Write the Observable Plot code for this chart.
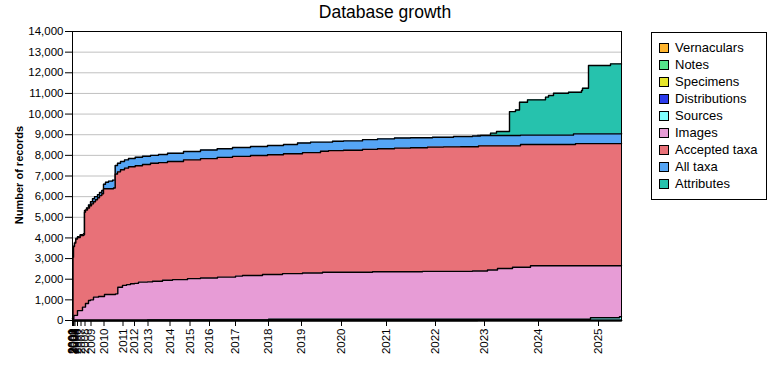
<!DOCTYPE html>
<html>
<head>
<meta charset="utf-8">
<script src="https://cdn.jsdelivr.net/npm/d3@7"></script>
<script src="https://cdn.jsdelivr.net/npm/@observablehq/plot@0.6"></script>
<style>
  body { margin: 0; background: #fff; font-family: "Liberation Sans", Arial, sans-serif; }
  #wrap { position: relative; width: 780px; height: 380px; }
  #title { position: absolute; left: 0; width: 770px; top: 2px; text-align: center; font-size: 17.5px; color: #000; }
  #ylab { position: absolute; left: 19px; top: 175px; transform: translate(-50%, -50%) rotate(-90deg); font-size: 11px; font-weight: bold; white-space: nowrap; }
  #legend { position: absolute; left: 651px; top: 32px; width: 114px; height: 166px; border: 1px solid #000; background: #fff; }
  .item { position: absolute; left: 7px; height: 17px; display: flex; align-items: center; font-size: 13px; white-space: nowrap; }
  .sw { width: 10px; height: 10px; border: 1px solid #000; margin-right: 6px; box-sizing: border-box; }
</style>
</head>
<body>
<div id="wrap">
  <div id="chart"></div>
  <div id="title">Database growth</div>
  <div id="ylab">Number of records</div>
  <div id="legend"></div>
</div>
<script>
// x = sequential update number; year tick labels placed at the first update of each year
const years       = [2000, 2001, 2002, 2003, 2004, 2005, 2006, 2007, 2008, 2009, 2010, 2011, 2012, 2013, 2014, 2015, 2016, 2017, 2018, 2019, 2020, 2021, 2022, 2023, 2024, 2025];
const yearUpdate  = [0, 0, 0.5, 1, 1.5, 2.5, 5, 8.5, 12.5, 18.5, 31.5, 50.5, 62, 75.5, 97.5, 117.5, 137, 163, 196, 229, 269, 314, 363, 412, 466, 526];
const lastUpdate  = 549;

// cumulative record counts: [update number, records]
const attributes = [[0,0],[405,8960],[418,9075],[424,9155],[437,10120],[443,10200],[447,10570],[455,10690],[473,10820],[476,10900],[481,11010],[496,11060],[509,11140],[510,11250],[516,12350],[538,12430],[549,12430]];
const allTaxa = [[0,100],[0.5,3070],[1,3600],[2,3780],[3.3,3980],[5,4060],[7.7,4160],[11,4200],[12,5330],[14,5450],[16,5600],[18,5750],[20,5900],[22,6000],[25,6100],[27,6200],[29.3,6300],[31,6600],[33,6700],[36,6750],[40,6800],[42.7,7510],[45,7620],[48,7700],[52,7780],[56,7850],[62.7,7910],[70,7960],[78,8000],[86,8040],[95,8100],[111,8190],[128,8260],[144.7,8320],[160,8380],[178,8430],[195,8480],[211,8525],[225,8600],[238,8640],[260,8680],[271,8700],[290,8760],[305,8800],[322,8840],[338,8850],[360,8880],[381,8910],[400,8940],[408,8960],[448,8980],[501,9040],[549,9075]];
const acceptedTaxa = [[0,100],[0.5,3070],[1,3580],[2,3750],[3.3,3950],[5,4020],[7.7,4120],[11,4150],[12,5250],[13,5350],[15,5450],[17,5560],[19,5650],[21,5750],[23,5850],[25,5950],[27,6050],[29.3,6140],[31,6380],[41,6420],[42.7,7100],[45,7200],[48,7300],[52,7380],[56,7450],[62.7,7500],[70,7560],[78,7620],[86,7650],[95,7700],[111,7780],[128,7840],[144.7,7900],[160,7950],[178,7990],[195,8030],[211,8075],[230,8130],[248,8200],[256,8230],[271,8250],[290,8290],[305,8320],[322,8350],[338,8370],[355,8400],[371,8410],[388,8420],[406,8460],[448,8525],[503,8570],[549,8590]];
const images = [[0,0],[0.5,80],[1.3,240],[2,250],[5,480],[10,650],[13,820],[16,970],[18,1000],[21,1130],[26,1160],[32,1260],[43,1290],[45.3,1610],[50,1700],[54,1740],[58,1780],[62,1800],[66,1860],[75,1870],[80,1900],[90,1950],[100,1980],[115,2030],[128,2060],[145,2100],[163,2150],[170,2180],[190,2230],[210,2270],[230,2300],[250,2340],[300,2360],[350,2380],[400,2400],[415,2450],[425,2520],[440,2580],[458,2650],[549,2650]];
const sources = [[0,0],[75,30],[196,60],[518,130],[547,180],[549,180]];
const distributions = [[0,0],[549,0]];
const specimens = [[0,0],[549,0]];
const notes = [[0,0],[549,0]];
const vernaculars = [[0,0],[549,0]];

const names  = ["Vernaculars", "Notes", "Specimens", "Distributions", "Sources", "Images", "Accepted taxa", "All taxa", "Attributes"];
const colors = ["#ffb52e", "#55e48a", "#e6e62a", "#2b3beb", "#7fffff", "#e79cd6", "#e87178", "#55a5f5", "#26c2ad"];
const seriesData = [vernaculars, notes, specimens, distributions, sources, images, acceptedTaxa, allTaxa, attributes];

const yTicks = d3.range(0, 14001, 1000);

// draw back to front: largest series first
const order = [8, 7, 6, 5, 4, 3, 2, 1, 0];
const seriesMarks = order.flatMap(i => [
  Plot.areaY(seriesData[i], {x: d => d[0], y: d => d[1], fill: colors[i], curve: "step-after"}),
  Plot.lineY(seriesData[i], {x: d => d[0], y: d => d[1], stroke: "#000", strokeWidth: 1.4, curve: "step-after"})
]);

const chart = Plot.plot({
  width: 780,
  height: 380,
  marginLeft: 72,
  marginRight: 159,
  marginTop: 31,
  marginBottom: 60,
  style: {fontFamily: "'Liberation Sans', Arial, sans-serif", fontSize: "11.5px", color: "#000", background: "#fff"},
  x: {domain: [0, lastUpdate]},
  y: {domain: [0, 14000]},
  marks: [
    Plot.ruleY(yTicks.filter(d => d > 0 && d < 14000), {stroke: "#c0c0c0", strokeWidth: 1}),
    ...seriesMarks,
    Plot.frame({stroke: "#000", strokeWidth: 1}),
    Plot.axisY({ticks: yTicks, tickSize: 7, tickPadding: 2, label: null, tickFormat: d3.format(",")}),
    Plot.axisX({ticks: yearUpdate, tickFormat: (d, i) => String(years[i]), tickRotate: -90, tickSize: 6, tickPadding: 2, label: null})
  ]
});
document.getElementById("chart").appendChild(chart);

const legend = document.getElementById("legend");
names.forEach((n, i) => {
  const it = document.createElement("div");
  it.className = "item";
  it.style.top = (6 + i * 17) + "px";
  const sw = document.createElement("span");
  sw.className = "sw";
  sw.style.background = colors[i];
  const tx = document.createElement("span");
  tx.textContent = n;
  it.appendChild(sw);
  it.appendChild(tx);
  legend.appendChild(it);
});
</script>
</body>
</html>
